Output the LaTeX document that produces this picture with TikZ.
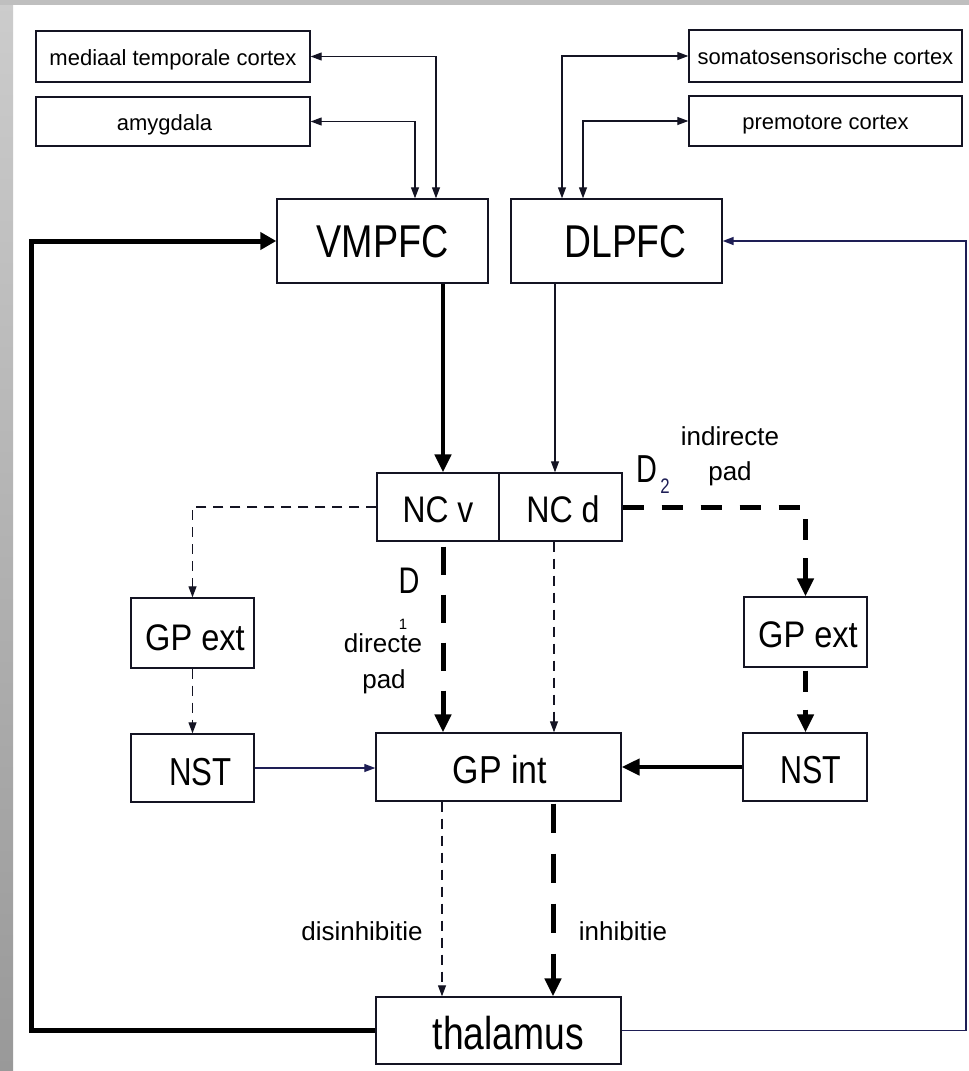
\documentclass[tikz,border=0pt]{standalone}
\usepackage{fontspec}
\setmainfont{Liberation Sans}
\usetikzlibrary{arrows.meta,calc}
\newcommand\tx[3]{\fontsize{#2}{#2}\selectfont\scalebox{#1}[1]{#3}}
\definecolor{ink}{RGB}{20,20,35}
\definecolor{navy}{RGB}{30,30,85}
\begin{document}
\begin{tikzpicture}[x=1pt,y=-1pt,
  box/.style={draw=ink, line width=1.4pt, fill=white, inner sep=0pt, text depth=0pt, text=black},
  thinarr/.style={draw=ink, line width=1.2pt, -{Triangle[length=11pt,width=8pt]}},
  thinboth/.style={draw=ink, line width=1.2pt, {Triangle[length=11pt,width=8pt]}-{Triangle[length=11pt,width=8pt]}},
  thickarr/.style={draw=black, line width=4.5pt, -{Triangle[length=18pt,width=16pt]}},
  thindash/.style={thinarr, dash pattern=on 10pt off 7pt},
  thickdash/.style={thickarr, line width=5pt},
  lbl/.style={inner sep=0pt, anchor=base, text=black}
]
\useasboundingbox (0,0) rectangle (969,1071);
\fill[white] (0,0) rectangle (969,1071);
\shade[top color=gray!40, bottom color=gray!80] (0,0) rectangle (13,1071);
\fill[gray!50] (0,0) rectangle (969,5);

% boxes
\node[box, minimum width=274pt, minimum height=51pt, text height=17pt] (mtc) at (173,56.5) {\tx{1}{22}{mediaal temporale cortex}};
\node[box, minimum width=274pt, minimum height=49pt, text height=17pt] (amy) at (173,121.5) {\tx{1}{22}{amygdala}\hspace*{17pt}};
\node[box, minimum width=273pt, minimum height=52pt, text height=17pt] (som) at (825.5,56) {\tx{1}{22}{somatosensorische cortex}};
\node[box, minimum width=273pt, minimum height=50pt, text height=17pt] (pre) at (825.5,121) {\tx{1}{22}{premotore cortex}};
\node[box, minimum width=211pt, minimum height=84pt, text height=32pt] (vm) at (382.5,241) {\tx{0.82}{46}{VMPFC}};
\node[box, minimum width=211pt, minimum height=84pt, text height=32pt] (dl) at (616.5,241) {\hspace*{18pt}\tx{0.81}{46}{DLPFC}};
\node[box, minimum width=122pt, minimum height=68pt, text height=30pt] (ncv) at (438,507) {\tx{0.86}{37}{NC v}};
\node[box, minimum width=123pt, minimum height=68pt, text height=30pt] (ncd) at (560.5,507) {\hspace*{5pt}\tx{0.87}{37}{NC d}};
\node[box, minimum width=123pt, minimum height=70pt, text height=34pt] (gpeL) at (192.5,633) {\hspace*{5pt}\tx{0.88}{37}{GP ext}};
\node[box, minimum width=123pt, minimum height=68pt, text height=34pt] (nstL) at (192.5,768) {\hspace*{16pt}\tx{0.8}{39}{NST}};
\node[box, minimum width=245pt, minimum height=68pt, text height=32pt] (gpi) at (498.5,767) {\hspace*{3pt}\tx{0.87}{39}{GP int}};
\node[box, minimum width=123pt, minimum height=70pt, text height=30pt] (gpeR) at (805.5,632) {\hspace*{5pt}\tx{0.88}{37}{GP ext}};
\node[box, minimum width=124pt, minimum height=68pt, text height=32pt] (nstR) at (805,767) {\hspace*{12pt}\tx{0.78}{39}{NST}};
\node[box, minimum width=245pt, minimum height=67pt, text height=37pt] (thal) at (498.5,1030.5) {\hspace*{20pt}\tx{0.81}{46}{thalamus}};

% labels
\node[lbl] (lD1) at (409,593) {\tx{0.78}{37}{D}};
\node[lbl] (lD1s) at (403,629) {\tx{1}{15}{1}};
\node[lbl] (ldir) at (383,652) {\tx{1}{26}{directe}};
\node[lbl] (lpad1) at (384,688) {\tx{1}{26}{pad}};
\node[lbl] (lD2) at (647,482) {\tx{0.74}{39}{D}};
\node[lbl, text=navy] (lD2s) at (665,493) {\tx{0.8}{21}{2}};
\node[lbl] (lind) at (730,445) {\tx{1}{26}{indirecte}};
\node[lbl] (lpad2) at (730,480) {\tx{1}{26}{pad}};
\node[lbl] (ldis) at (362,940) {\tx{1}{26}{disinhibitie}};
\node[lbl] (linh) at (623,940) {\tx{1}{26}{inhibitie}};

% cortical connections
\draw[thinboth] (mtc.east) -| ([xshift=53.5pt]vm.north);
\draw[thinboth] (amy.east) -| ([xshift=32.5pt]vm.north);
\draw[thinboth] (som.west) -| ([xshift=-54.5pt]dl.north);
\draw[thinboth] (pre.west) -| ([xshift=-33.5pt]dl.north);

% PFC to striatum
\draw[thickarr] ([xshift=60.5pt]vm.south) -- ([xshift=5pt]ncv.north);
\draw[thinarr] ([xshift=-61.5pt]dl.south) -- ([xshift=-5.5pt]ncd.north);

% left indirect (thin dashed)
\draw[thindash] (ncv.west) -| (gpeL.north);
\draw[thindash] (gpeL.south) -- (nstL.north);
\draw[thinarr, draw=navy] (nstL.east) -- (nstL.east -| gpi.west);

% direct pathways
\draw[thickdash, dash pattern=on 28pt off 20pt, dash phase=43pt] ([xshift=5pt]ncv.south) -- ([xshift=-55.5pt]gpi.north);
\draw[thindash] ([xshift=-6.5pt]ncd.south) -- ([xshift=55.5pt]gpi.north);

% right indirect (thick dashed)
\draw[thickdash, dash pattern=on 21pt off 18pt] (ncd.east) -| (gpeR.north);
\draw[thickdash, dash pattern=on 21pt off 18pt, dash phase=36pt] (gpeR.south) -- (gpeR.south |- nstR.north);
\draw[thickarr] (nstR.west) -- (nstR.west -| gpi.east);

% GP int to thalamus
\draw[thindash] ([xshift=-56.5pt]gpi.south) -- ([xshift=-56.5pt]thal.north);
\draw[thickdash, dash pattern=on 29pt off 21pt, dash phase=48pt] ([xshift=54.5pt]gpi.south) -- ([xshift=54.5pt]thal.north);

% feedback loops
\coordinate (lrail) at (31,0);
\coordinate (rrail) at (966,0);
\draw[thickarr, line width=5pt, -{Triangle[length=16pt,width=17pt]}] (thal.west) -| (lrail |- vm.west) -- (vm.west);
\draw[thinarr, draw=navy, line width=1.5pt] (thal.east) -| (rrail |- dl.east) -- (dl.east);
\end{tikzpicture}
\end{document}
